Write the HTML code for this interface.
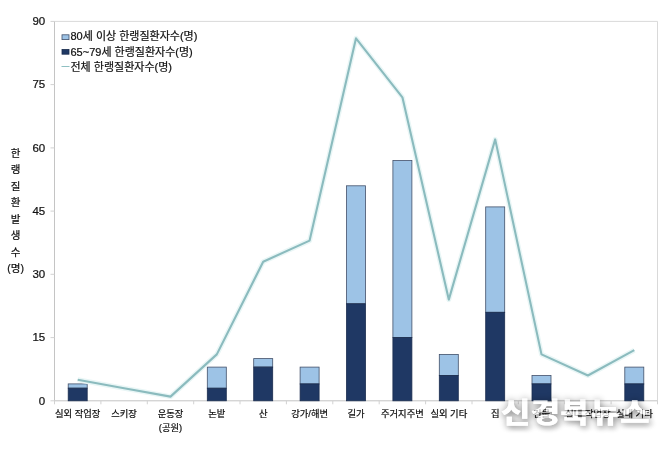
<!DOCTYPE html>
<html lang="ko"><head><meta charset="utf-8"><title>한랭질환 발생수</title>
<style>html,body{margin:0;padding:0;background:#fff}body{width:671px;height:450px;overflow:hidden}svg{display:block}text{font-family:"Liberation Sans","Noto Sans CJK KR",sans-serif;fill:#111;stroke:#111;stroke-width:0.22px}</style>
</head><body>
<svg width="671" height="450" viewBox="0 0 671 450">
<defs><filter id="wm" x="-10%" y="-40%" width="120%" height="200%" color-interpolation-filters="sRGB"><feGaussianBlur in="SourceAlpha" stdDeviation="3" result="b1"/><feOffset in="b1" dx="1.5" dy="3.5" result="o1"/><feComponentTransfer in="o1" result="s1"><feFuncA type="linear" slope="0.27"/></feComponentTransfer><feMorphology in="SourceAlpha" operator="dilate" radius="1" result="d2"/><feGaussianBlur in="d2" stdDeviation="3.5" result="b2"/><feComponentTransfer in="b2" result="s2"><feFuncA type="linear" slope="0.22"/></feComponentTransfer><feMerge result="sh"><feMergeNode in="s2"/><feMergeNode in="s1"/></feMerge><feComposite in="sh" in2="SourceAlpha" operator="out" result="sho"/><feComponentTransfer in="SourceGraphic" result="g"><feFuncA type="linear" slope="0.72"/></feComponentTransfer><feMerge><feMergeNode in="sho"/><feMergeNode in="g"/></feMerge></filter></defs>
<rect width="671" height="450" fill="#fff"/>
<path d="M54.5 21.4H657.5V400.8" fill="none" stroke="#d9d9d9" stroke-width="1"/>
<path d="M54.5 21.4V400.8H657.5" fill="none" stroke="#c4c4c4" stroke-width="1"/>
<path d="M50.5 400.8H54.5" stroke="#d2d2d2" stroke-width="1"/>
<text x="45.2" y="404.5" font-size="11.5" text-anchor="end">0</text>
<path d="M50.5 337.6H54.5" stroke="#d2d2d2" stroke-width="1"/>
<text x="45.2" y="341.3" font-size="11.5" text-anchor="end">15</text>
<path d="M50.5 274.3H54.5" stroke="#d2d2d2" stroke-width="1"/>
<text x="45.2" y="278.0" font-size="11.5" text-anchor="end">30</text>
<path d="M50.5 211.1H54.5" stroke="#d2d2d2" stroke-width="1"/>
<text x="45.2" y="214.8" font-size="11.5" text-anchor="end">45</text>
<path d="M50.5 147.9H54.5" stroke="#d2d2d2" stroke-width="1"/>
<text x="45.2" y="151.6" font-size="11.5" text-anchor="end">60</text>
<path d="M50.5 84.6H54.5" stroke="#d2d2d2" stroke-width="1"/>
<text x="45.2" y="88.3" font-size="11.5" text-anchor="end">75</text>
<path d="M50.5 21.4H54.5" stroke="#d2d2d2" stroke-width="1"/>
<text x="45.2" y="25.1" font-size="11.5" text-anchor="end">90</text>
<path d="M54.5 400.8V404.3" stroke="#d2d2d2" stroke-width="1"/>
<path d="M100.9 400.8V404.3" stroke="#d2d2d2" stroke-width="1"/>
<path d="M147.3 400.8V404.3" stroke="#d2d2d2" stroke-width="1"/>
<path d="M193.7 400.8V404.3" stroke="#d2d2d2" stroke-width="1"/>
<path d="M240.0 400.8V404.3" stroke="#d2d2d2" stroke-width="1"/>
<path d="M286.4 400.8V404.3" stroke="#d2d2d2" stroke-width="1"/>
<path d="M332.8 400.8V404.3" stroke="#d2d2d2" stroke-width="1"/>
<path d="M379.2 400.8V404.3" stroke="#d2d2d2" stroke-width="1"/>
<path d="M425.6 400.8V404.3" stroke="#d2d2d2" stroke-width="1"/>
<path d="M472.0 400.8V404.3" stroke="#d2d2d2" stroke-width="1"/>
<path d="M518.3 400.8V404.3" stroke="#d2d2d2" stroke-width="1"/>
<path d="M564.7 400.8V404.3" stroke="#d2d2d2" stroke-width="1"/>
<path d="M611.1 400.8V404.3" stroke="#d2d2d2" stroke-width="1"/>
<path d="M657.5 400.8V404.3" stroke="#d2d2d2" stroke-width="1"/>
<rect x="68.2" y="383.9" width="19.0" height="4.2" fill="#9dc3e6" stroke="#42506a" stroke-width="0.8"/>
<rect x="68.2" y="388.2" width="19.0" height="12.6" fill="#1f3864" stroke="#1b2d4f" stroke-width="0.8"/>
<rect x="207.3" y="367.1" width="19.0" height="21.1" fill="#9dc3e6" stroke="#42506a" stroke-width="0.8"/>
<rect x="207.3" y="388.2" width="19.0" height="12.6" fill="#1f3864" stroke="#1b2d4f" stroke-width="0.8"/>
<rect x="253.7" y="358.6" width="19.0" height="8.4" fill="#9dc3e6" stroke="#42506a" stroke-width="0.8"/>
<rect x="253.7" y="367.1" width="19.0" height="33.7" fill="#1f3864" stroke="#1b2d4f" stroke-width="0.8"/>
<rect x="300.1" y="367.1" width="19.0" height="16.9" fill="#9dc3e6" stroke="#42506a" stroke-width="0.8"/>
<rect x="300.1" y="383.9" width="19.0" height="16.9" fill="#1f3864" stroke="#1b2d4f" stroke-width="0.8"/>
<rect x="346.5" y="185.8" width="19.0" height="118.0" fill="#9dc3e6" stroke="#42506a" stroke-width="0.8"/>
<rect x="346.5" y="303.8" width="19.0" height="97.0" fill="#1f3864" stroke="#1b2d4f" stroke-width="0.8"/>
<rect x="392.9" y="160.5" width="19.0" height="177.1" fill="#9dc3e6" stroke="#42506a" stroke-width="0.8"/>
<rect x="392.9" y="337.6" width="19.0" height="63.2" fill="#1f3864" stroke="#1b2d4f" stroke-width="0.8"/>
<rect x="439.3" y="354.4" width="19.0" height="21.1" fill="#9dc3e6" stroke="#42506a" stroke-width="0.8"/>
<rect x="439.3" y="375.5" width="19.0" height="25.3" fill="#1f3864" stroke="#1b2d4f" stroke-width="0.8"/>
<rect x="485.7" y="206.9" width="19.0" height="105.4" fill="#9dc3e6" stroke="#42506a" stroke-width="0.8"/>
<rect x="485.7" y="312.3" width="19.0" height="88.5" fill="#1f3864" stroke="#1b2d4f" stroke-width="0.8"/>
<rect x="532.0" y="375.5" width="19.0" height="8.4" fill="#9dc3e6" stroke="#42506a" stroke-width="0.8"/>
<rect x="532.0" y="383.9" width="19.0" height="16.9" fill="#1f3864" stroke="#1b2d4f" stroke-width="0.8"/>
<rect x="624.8" y="367.1" width="19.0" height="16.9" fill="#9dc3e6" stroke="#42506a" stroke-width="0.8"/>
<rect x="624.8" y="383.9" width="19.0" height="16.9" fill="#1f3864" stroke="#1b2d4f" stroke-width="0.8"/>
<polyline points="77.7,379.7 124.1,388.2 170.5,396.6 216.8,354.4 263.2,261.7 309.6,240.6 356.0,38.3 402.4,97.3 448.8,299.6 495.2,139.4 541.5,354.4 587.9,375.5 634.3,350.2" fill="none" stroke="#e9f6f6" stroke-width="5" stroke-linejoin="round"/>
<polyline points="77.7,379.7 124.1,388.2 170.5,396.6 216.8,354.4 263.2,261.7 309.6,240.6 356.0,38.3 402.4,97.3 448.8,299.6 495.2,139.4 541.5,354.4 587.9,375.5 634.3,350.2" fill="none" stroke="#8bbbbe" stroke-width="2.1" stroke-linejoin="round"/>
<text x="77.7" y="417.4" font-size="9.3" text-anchor="middle">실외 작업장</text>
<text x="124.1" y="417.4" font-size="9.3" text-anchor="middle">스키장</text>
<text x="170.5" y="417.4" font-size="9.3" text-anchor="middle">운동장</text>
<text x="216.8" y="417.4" font-size="9.3" text-anchor="middle">논밭</text>
<text x="263.2" y="417.4" font-size="9.3" text-anchor="middle">산</text>
<text x="309.6" y="417.4" font-size="9.3" text-anchor="middle">강가/해변</text>
<text x="356.0" y="417.4" font-size="9.3" text-anchor="middle">길가</text>
<text x="402.4" y="417.4" font-size="9.3" text-anchor="middle">주거지주변</text>
<text x="448.8" y="417.4" font-size="9.3" text-anchor="middle">실외 기타</text>
<text x="495.2" y="417.4" font-size="9.3" text-anchor="middle">집</text>
<text x="541.5" y="417.4" font-size="9.3" text-anchor="middle">건물</text>
<text x="587.9" y="417.4" font-size="9.3" text-anchor="middle">실내 작업장</text>
<text x="634.3" y="417.4" font-size="9.3" text-anchor="middle">실내 기타</text>
<text x="170.5" y="431.1" font-size="9.3" text-anchor="middle">(공원)</text>
<text x="15.6" y="156.5" font-size="10.5" text-anchor="middle">한</text>
<text x="15.6" y="173.0" font-size="10.5" text-anchor="middle">랭</text>
<text x="15.6" y="189.5" font-size="10.5" text-anchor="middle">질</text>
<text x="15.6" y="206.0" font-size="10.5" text-anchor="middle">환</text>
<text x="15.6" y="222.5" font-size="10.5" text-anchor="middle">발</text>
<text x="15.6" y="239.0" font-size="10.5" text-anchor="middle">생</text>
<text x="15.6" y="255.5" font-size="10.5" text-anchor="middle">수</text>
<text x="15.6" y="272.0" font-size="10.5" text-anchor="middle">(명)</text>
<rect x="62" y="34.8" width="7" height="4.8" fill="#9dc3e6" stroke="#42506a" stroke-width="0.8"/>
<text x="70.5" y="40.4" font-size="11">80세 이상 한랭질환자수(명)</text>
<rect x="62" y="49.4" width="7" height="4.8" fill="#1f3864" stroke="#1b2d4f" stroke-width="0.8"/>
<text x="70.5" y="55.7" font-size="11">65~79세 한랭질환자수(명)</text>
<path d="M61.5 66.5H69.5" stroke="#8fc0c2" stroke-width="1"/>
<text x="70.5" y="70.9" font-size="11">전체 한랭질환자수(명)</text>
<text x="0" y="0" font-weight="900" font-size="32" filter="url(#wm)" transform="translate(500.8 423.2) scale(1.012 0.89)" style="font-family:'Noto Sans CJK KR',sans-serif;fill:#fff;stroke:none">신경북뉴스</text>
</svg></body></html>
